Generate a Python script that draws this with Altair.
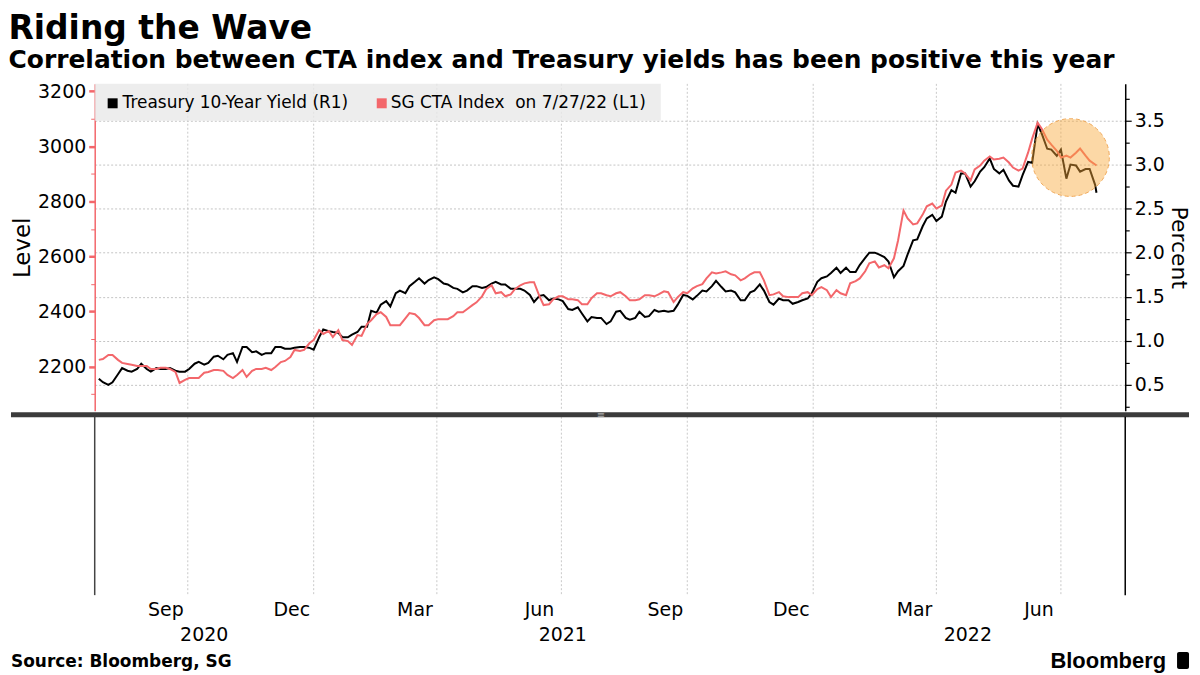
import altair as alt
import pandas as pd

# ---------------- data ----------------
# Tuesday readings (plus the last day, 7/27/22) and Friday readings
tue_dates = [d.strftime("%Y-%m-%d") for d in pd.date_range("2020-07-28", periods=105, freq="7D")] + ["2022-07-27"]
fri_dates = [d.strftime("%Y-%m-%d") for d in pd.date_range("2020-07-31", periods=104, freq="7D")]

yield_tue = [
    0.57, 0.50, 0.62, 0.66, 0.68, 0.68, 0.69, 0.68, 0.66, 0.65,
    0.74, 0.73, 0.82, 0.79, 0.86, 0.93, 0.87, 0.84, 0.86, 0.93,
    0.91, 0.93, 0.92, 1.04, 1.11, 1.09, 1.04, 1.10, 1.16, 1.32,
    1.45, 1.54, 1.54, 1.67, 1.65, 1.72, 1.65, 1.60, 1.55, 1.62,
    1.60, 1.65, 1.64, 1.59, 1.59, 1.52, 1.51, 1.46, 1.47, 1.36,
    1.38, 1.22, 1.26, 1.19, 1.33, 1.26, 1.26, 1.27, 1.35, 1.34,
    1.34, 1.52, 1.47, 1.57, 1.62, 1.61, 1.57, 1.46, 1.55, 1.64,
    1.44, 1.48, 1.46, 1.44, 1.48, 1.67, 1.73, 1.83, 1.83, 1.78,
    1.94, 2.00, 1.95, 1.72, 1.85, 2.14, 2.30, 2.43, 2.41, 2.71,
    2.90, 2.75, 2.92, 3.07, 2.90, 2.82, 2.75, 3.03, 3.46, 3.18,
    3.10, 2.84, 2.99, 2.95, 2.77, 2.68,
]
yield_fri = [
    0.53, 0.53, 0.69, 0.65, 0.74, 0.65, 0.68, 0.69, 0.65, 0.68,
    0.76, 0.75, 0.83, 0.84, 0.76, 0.93, 0.88, 0.86, 0.93, 0.91,
    0.92, 0.93, 0.90, 1.13, 1.10, 1.04, 1.07, 1.16, 1.34, 1.41,
    1.39, 1.57, 1.62, 1.71, 1.69, 1.70, 1.64, 1.59, 1.57, 1.62,
    1.61, 1.67, 1.64, 1.59, 1.57, 1.44, 1.52, 1.48, 1.45, 1.35,
    1.31, 1.27, 1.26, 1.22, 1.34, 1.24, 1.33, 1.28, 1.33, 1.33,
    1.41, 1.51, 1.51, 1.56, 1.68, 1.56, 1.55, 1.46, 1.57, 1.57,
    1.41, 1.46, 1.42, 1.46, 1.54, 1.71, 1.77, 1.77, 1.78, 1.86,
    2.00, 1.98, 1.90, 1.79, 1.98, 2.15, 2.39, 2.36, 2.58, 2.68,
    2.90, 2.81, 2.97, 2.95, 2.94, 2.76, 2.88, 3.02, 3.35, 3.17,
    3.17, 3.00, 2.92, 2.95,
]

cta_tue = [
    2224, 2242, 2224, 2209, 2202, 2202, 2191, 2195, 2180, 2151,
    2158, 2177, 2187, 2184, 2158, 2187, 2184, 2191, 2187, 2216,
    2234, 2256, 2285, 2332, 2329, 2332, 2292, 2314, 2354, 2390,
    2380, 2350, 2375, 2390, 2350, 2368, 2372, 2383, 2397, 2423,
    2455, 2495, 2470, 2462, 2495, 2506, 2455, 2426, 2455, 2444,
    2441, 2426, 2466, 2459, 2466, 2455, 2441, 2459, 2455, 2473,
    2434, 2470, 2484, 2499, 2542, 2542, 2535, 2513, 2535, 2542,
    2459, 2470, 2452, 2452, 2470, 2481, 2477, 2477, 2459, 2510,
    2546, 2582, 2568, 2593, 2767, 2716, 2752, 2792, 2785, 2861,
    2912, 2876, 2930, 2963, 2955, 2941, 2912, 2977, 3086, 3024,
    2984, 2966, 2977, 2966, 2934, 2930,
]
cta_fri = [
    2227, 2242, 2213, 2206, 2202, 2191, 2195, 2191, 2140, 2158,
    2158, 2180, 2187, 2169, 2169, 2162, 2191, 2195, 2198, 2220,
    2260, 2260, 2296, 2318, 2307, 2296, 2278, 2311, 2368, 2397,
    2350, 2350, 2394, 2376, 2350, 2372, 2372, 2397, 2408, 2433,
    2481, 2466, 2455, 2481, 2502, 2506, 2423, 2444, 2455, 2444,
    2426, 2448, 2466, 2455, 2470, 2441, 2444, 2459, 2462, 2470,
    2452, 2466, 2492, 2520, 2538, 2546, 2531, 2520, 2542, 2513,
    2462, 2455, 2452, 2466, 2459, 2488, 2452, 2466, 2502, 2520,
    2575, 2560, 2557, 2658, 2738, 2720, 2782, 2774, 2839, 2905,
    2901, 2916, 2948, 2952, 2959, 2923, 2919, 3028, 3064, 3006,
    2959, 2959, 2992, 2948,
]

series_names = ["Treasury 10-Year Yield (R1)", "SG CTA Index\u00a0 on 7/27/22 (L1)"]
series_colors = ["#000000", "#f3676b"]

grid_dates = ["2020-10-01", "2021-01-01", "2021-04-01", "2021-07-01",
              "2021-10-01", "2022-01-01", "2022-04-01", "2022-07-01"]
month_dates = ["2020-09-15", "2020-12-16", "2021-03-16", "2021-06-15",
               "2021-09-15", "2021-12-16", "2022-03-16", "2022-06-15"]
month_labels = ["Sep", "Dec", "Mar", "Jun", "Sep", "Dec", "Mar", "Jun"]
year_dates = ["2020-10-13", "2021-07-02", "2022-04-24"]
year_labels = ["2020", "2021", "2022"]

left_ticks = [2100, 2200, 2300, 2400, 2500, 2600, 2700, 2800, 2900, 3000, 3100, 3200]
right_ticks = [0.25, 0.5, 0.75, 1.0, 1.25, 1.5, 1.75, 2.0, 2.25, 2.5, 2.75,
               3.0, 3.25, 3.5, 3.75]

highlight_date = ["2022-07-08"]
highlight_value = [3.08]

title_text = "Riding the Wave"
subtitle_text = "Correlation between CTA index and Treasury yields has been positive this year"
source_text = "Source: Bloomberg, SG"
brand_text = "Bloomberg"

# ---------------- layout ----------------
W = 1034
H1 = 328
H2 = 185
FONT = "DejaVu Sans"
RED = series_colors[1]

xscale = alt.Scale(domain=[alt.DateTime(year=2020, month=7, date=25, utc=True),
                           alt.DateTime(year=2022, month=8, date=17, utc=True)])
xenc = alt.X("date:T", scale=xscale, axis=None)

df = pd.DataFrame({
    "date": tue_dates + fri_dates,
    "yld": yield_tue + yield_fri,
    "cta": cta_tue + cta_fri,
}).sort_values("date")
grid_df = pd.DataFrame({"date": grid_dates})
one = pd.DataFrame({"k": [0]})

yield_scale = alt.Scale(domain=[0.206, 3.916], nice=False, zero=False)
cta_scale = alt.Scale(domain=[2039, 3227], nice=False, zero=False)

vgrid = alt.Chart(grid_df).mark_rule(color="#c9c9c9", strokeDash=[2, 2], strokeWidth=1).encode(x=xenc)

legend_box = alt.Chart(one).mark_rect(fill="#e9e9e9", opacity=0.8).encode(
    x=alt.value(0), x2=alt.value(568), y=alt.value(0), y2=alt.value(37))

yield_line = alt.Chart(df).mark_line(color=series_colors[0], strokeWidth=2).encode(
    x=xenc,
    y=alt.Y("yld:Q", scale=yield_scale, axis=alt.Axis(
        orient="right", values=right_ticks,
        labelExpr="datum.value % 0.5 === 0 ? format(datum.value, '.1f') : ''",
        labelFont=FONT,
        labelFontSize={"condition": {"test": "datum.value % 0.5 === 0", "value": 19}, "value": 1},
        labelColor="#000", labelPadding=3, labelOverlap=False,
        title="Percent", titleFont=FONT, titleFontSize=22, titleFontWeight="normal",
        titleColor="#000", titlePadding=2,
        domainColor="#000", domainWidth=1.5, tickColor="#000",
        tickSize={"condition": {"test": "datum.value % 0.5 === 0", "value": 6}, "value": 4},
        tickWidth=1.2,
        grid=True, gridColor="#c4c4c4", gridDash=[2, 2],
        gridOpacity={"condition": {"test": "datum.value % 0.5 === 0", "value": 1}, "value": 0},
    )))

cta_line = alt.Chart(df).mark_line(color=RED, strokeWidth=2).encode(
    x=xenc,
    y=alt.Y("cta:Q", scale=cta_scale, axis=alt.Axis(
        orient="left", values=left_ticks,
        labelExpr="datum.value % 200 === 0 ? format(datum.value, 'd') : ''",
        labelFont=FONT,
        labelFontSize={"condition": {"test": "datum.value % 200 === 0", "value": 19}, "value": 1},
        labelColor="#000", labelPadding=3, labelOverlap=False,
        title="Level", titleFont=FONT, titleFontSize=23, titleFontWeight="normal",
        titleColor="#000", titlePadding=3,
        domainColor=RED, domainWidth=1.5, tickColor=RED,
        tickSize={"condition": {"test": "datum.value % 200 === 0", "value": 6}, "value": 4},
        tickWidth={"condition": {"test": "datum.value % 200 === 0", "value": 2.5}, "value": 1},
        grid=False,
    )))

circle = alt.Chart(pd.DataFrame({"date": highlight_date, "v": highlight_value})).mark_point(
    shape="circle", filled=True, size=6082, fill="#f9a83a", fillOpacity=0.45,
    stroke="#eea24c", strokeOpacity=0.9, strokeWidth=1, strokeDash=[4, 3], opacity=1
).encode(x=xenc, y=alt.Y("v:Q", scale=yield_scale, axis=None))

leg_sq1 = alt.Chart(one).mark_square(size=100, color=series_colors[0], opacity=1).encode(
    x=alt.value(18), y=alt.value(19.5))
leg_tx1 = alt.Chart(pd.DataFrame({"name": [series_names[0]]})).mark_text(
    font=FONT, fontSize=17, align="left", baseline="middle", color="#000").encode(
    x=alt.value(28), y=alt.value(19.5), text="name:N")
leg_sq2 = alt.Chart(one).mark_square(size=100, color=series_colors[1], opacity=1).encode(
    x=alt.value(288), y=alt.value(19.5))
leg_tx2 = alt.Chart(pd.DataFrame({"name": [series_names[1]]})).mark_text(
    font=FONT, fontSize=17, align="left", baseline="middle", color="#000").encode(
    x=alt.value(297), y=alt.value(19.5), text="name:N")

upper = alt.layer(
    vgrid, legend_box, yield_line, cta_line, circle, leg_sq1, leg_tx1, leg_sq2, leg_tx2
).resolve_scale(y="independent").properties(width=W, height=H1)

# ---------------- lower (empty) panel with time labels ----------------
divider = alt.Chart(one).mark_rule(color="#3b3b3b", strokeWidth=5).encode(
    x=alt.value(-84), x2=alt.value(1098), y=alt.value(4))
grip = alt.Chart(pd.DataFrame({"t": ["\u2261"]})).mark_text(
    font=FONT, fontSize=10, color="#a8a8a8", align="center", baseline="middle").encode(
    x=alt.value(508), y=alt.value(4), text="t:N")
left_edge = alt.Chart(one).mark_rule(color="#444444", strokeWidth=1.5).encode(
    x=alt.value(0), y=alt.value(6), y2=alt.value(H2))
right_edge = alt.Chart(one).mark_rule(color="#000000", strokeWidth=1.5).encode(
    x=alt.value(W), y=alt.value(6), y2=alt.value(H2))
vgrid2 = alt.Chart(grid_df).mark_rule(color="#c9c9c9", strokeDash=[2, 2], strokeWidth=1).encode(
    x=xenc, y=alt.value(6), y2=alt.value(H2))

months = alt.Chart(pd.DataFrame({"date": month_dates, "label": month_labels})).mark_text(
    font=FONT, fontSize=19, baseline="middle", align="center", color="#000").encode(
    x=xenc, y=alt.value(H2 + 15), text="label:N")
years = alt.Chart(pd.DataFrame({"date": year_dates, "label": year_labels})).mark_text(
    font=FONT, fontSize=19, baseline="middle", align="center", color="#000").encode(
    x=xenc, y=alt.value(H2 + 40), text="label:N")

source = alt.Chart(pd.DataFrame({"t": [source_text]})).mark_text(
    font=FONT, fontSize=17, fontWeight="bold", align="left", baseline="middle", color="#000").encode(
    x=alt.value(-84), y=alt.value(H2 + 67), text="t:N")
brand = alt.Chart(pd.DataFrame({"t": [brand_text]})).mark_text(
    font="Liberation Sans", fontSize=22, fontWeight="bold", align="right", baseline="middle",
    color="#000").encode(x=alt.value(1075), y=alt.value(H2 + 66), text="t:N")
brand_icon = alt.Chart(one).mark_rect(color="#000", cornerRadius=2).encode(
    x=alt.value(1086), x2=alt.value(1098), y=alt.value(H2 + 57), y2=alt.value(H2 + 74))

lower = alt.layer(
    vgrid2, divider, grip, left_edge, right_edge, months, years, source, brand, brand_icon
).properties(width=W, height=H2)

chart = alt.vconcat(upper, lower, spacing=0, bounds="flush").properties(
    title=alt.TitleParams(
        text=title_text, subtitle=subtitle_text, anchor="start",
        font=FONT, fontSize=33, fontWeight="bold", color="#000",
        subtitleFont=FONT, subtitleFontSize=25, subtitleFontWeight="bold",
        subtitleColor="#000", subtitlePadding=2, offset=9),
    padding={"left": 0, "top": 4, "right": 0, "bottom": 0},
).configure_view(strokeWidth=0)

chart.save("out.html", embed_options={"renderer": "svg", "actions": False})
